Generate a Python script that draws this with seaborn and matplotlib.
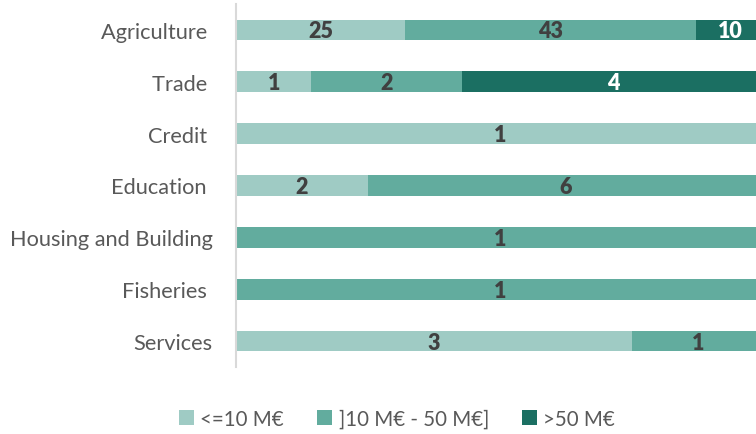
import matplotlib
matplotlib.use("Agg")
import matplotlib.pyplot as plt
from matplotlib.patches import Patch
import numpy as np
import pandas as pd
import seaborn as sns

sectors = ["Agriculture ", "Trade ", "Credit ", "Education ",
           "Housing and Building", "Fisheries ", "Services"]
small = [25, 1, 1, 2, 0, 0, 3]        # <=10 M€
medium = [43, 2, 0, 6, 1, 1, 1]       # ]10 M€ - 50 M€]
large = [10, 4, 0, 0, 0, 0, 0]        # >50 M€
series_names = ["<=10 M€", "]10 M€ - 50 M€]", ">50 M€"]
colors = ["#9FCBC4", "#62AC9E", "#1B6F62"]
label_colors = ["#404040", "#404040", "#FFFFFF"]

sns.set_theme(style="white")
plt.rcParams["font.family"] = ["Lato", "DejaVu Sans"]

df = pd.DataFrame({"sector": sectors, "small": small,
                   "medium": medium, "large": large})
totals = df[["small", "medium", "large"]].sum(axis=1)
shares = df[["small", "medium", "large"]].div(totals, axis=0)
cum = shares.cumsum(axis=1)

fig = plt.figure(figsize=(7.56, 4.35), dpi=100)
ax = fig.add_axes([236 / 756, 1 - 368 / 435, (764 - 236) / 756, (368 - 5) / 435])

# Stacked 100% bars: draw cumulative widths from the outermost segment inward
for col, color in zip(["large", "medium", "small"], colors[::-1]):
    sns.barplot(x=cum[col].values, y=df["sector"], orient="h", color=color,
                width=0.4, linewidth=0, saturation=1, ax=ax)

for i in range(len(df)):
    left = 0.0
    for j, col in enumerate(["small", "medium", "large"]):
        w = shares[col].iloc[i]
        v = df[col].iloc[i]
        if v > 0:
            ax.text(left + w / 2, i + 0.02, str(v), ha="center", va="center",
                    fontsize=15.5, fontweight="heavy", color=label_colors[j])
        left += w

ax.set_xlim(0, 1)
ax.set_ylim(6.5, -0.5)
ax.set_xlabel("")
ax.set_ylabel("")
ax.set_xticks([])
ax.tick_params(axis="y", length=0, pad=17, labelsize=15.7, labelcolor="#595959")
for s in ["top", "right", "bottom"]:
    ax.spines[s].set_visible(False)
ax.spines["left"].set_color("#D9D9D9")
ax.spines["left"].set_linewidth(1.5)

handles = [Patch(facecolor=c, edgecolor="none", label=n)
           for c, n in zip(colors, series_names)]
fig.legend(handles=handles, loc="center", bbox_to_anchor=(397 / 756, 1 - 420 / 435),
           ncol=3, frameon=False, fontsize=14.8, labelcolor="#595959",
           handlelength=0.75, handleheight=0.75, handletextpad=0.3,
           columnspacing=1.6)

fig.savefig("out.png", dpi=100)
